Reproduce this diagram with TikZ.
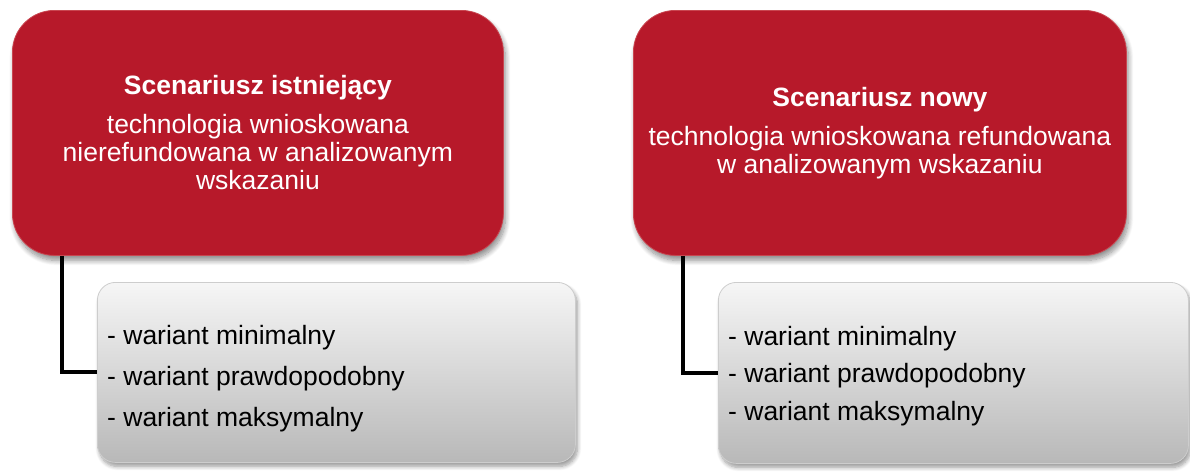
\documentclass[tikz,border=0pt]{standalone}
\usepackage{fontspec}
\setmainfont{Liberation Sans}
\usetikzlibrary{shadows.blur,positioning}
\definecolor{boxred}{RGB}{183,25,42}
\definecolor{boxredline}{RGB}{200,70,80}
\definecolor{graytop}{RGB}{246,246,246}
\definecolor{graybot}{RGB}{184,184,184}
\definecolor{grayline}{RGB}{205,205,205}
\tikzset{
  redbox/.style={rounded corners=42pt, fill=boxred, draw=boxredline, line width=0.8pt,
    text=white, align=center, anchor=north west, inner sep=0pt,
    blur shadow={shadow xshift=2pt, shadow yshift=-5pt, shadow blur steps=10, shadow blur radius=5pt, shadow opacity=45},
    font=\fontsize{26.5}{28}\selectfont},
  graybox/.style={rounded corners=18pt, top color=graytop, bottom color=graybot, draw=grayline, line width=0.8pt,
    anchor=north west, inner sep=0pt,
    blur shadow={shadow xshift=2pt, shadow yshift=-4pt, shadow blur steps=8, shadow blur radius=4pt, shadow opacity=40}},
  varlist/.style={text=black, align=left, anchor=west, inner sep=0pt},
  conn/.style={line width=4pt, draw=black}
}
\begin{document}
\begin{tikzpicture}[x=1pt,y=-1pt]
\useasboundingbox (0,0) rectangle (1190,472);
% scenario boxes
\node[redbox, minimum width=491pt, minimum height=245pt] (Lred) at (12,10)
  {\textbf{Scenariusz istniejący}\\[11pt]technologia wnioskowana\\nierefundowana w analizowanym\\wskazaniu};
\node[redbox, minimum width=493pt, minimum height=245pt] (Rred) at (633,10)
  {\textbf{Scenariusz nowy}\\[11pt]technologia wnioskowana refundowana\\w analizowanym wskazaniu};
% variant boxes
\node[graybox, minimum width=478pt, minimum height=180pt] (Lgray) at (97,282) {};
\node[graybox, minimum width=470pt, minimum height=181pt] (Rgray) at (718,282) {};
\node[varlist, font=\fontsize{26.5}{41}\selectfont] (Lvar) at ([xshift=10pt,yshift=-6pt]Lgray.west)
  {- wariant minimalny\\- wariant prawdopodobny\\- wariant maksymalny};
\node[varlist, font=\fontsize{26.5}{37.5}\selectfont] (Rvar) at ([xshift=10pt,yshift=-3pt]Rgray.west)
  {- wariant minimalny\\- wariant prawdopodobny\\- wariant maksymalny};
% connectors
\draw[conn] ([xshift=50pt]Lred.south west) |- (Lgray.west);
\draw[conn] ([xshift=50pt]Rred.south west) |- (Rgray.west);
\end{tikzpicture}
\end{document}
